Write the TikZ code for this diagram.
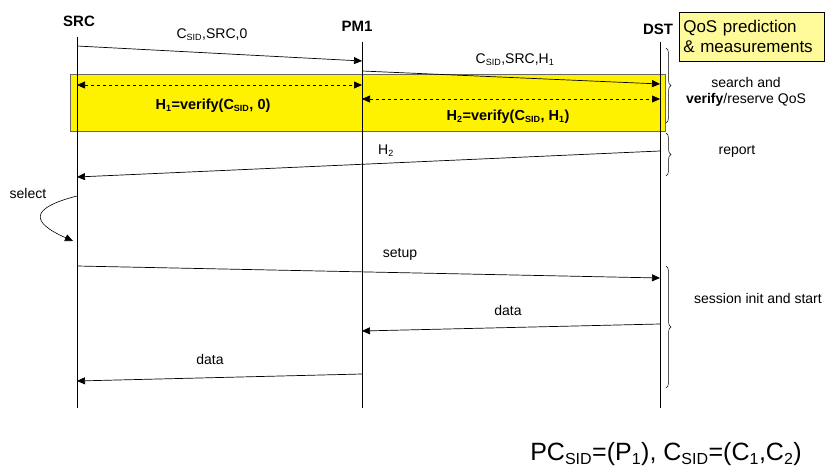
\documentclass[tikz,border=0pt]{standalone}
\usepackage{fontspec}
\setmainfont{Liberation Sans}
\usetikzlibrary{arrows.meta,decorations.pathreplacing}
\newcommand{\sbs}[1]{\textsubscript{\fontsize{9}{10}\selectfont #1}}
\newcommand{\bsbs}[1]{\textsubscript{\fontsize{16}{17}\selectfont #1}}
\begin{document}
\begin{tikzpicture}[x=1pt,y=-1pt,
  msg/.style={-{Triangle[length=8pt,width=7pt]},line width=0.7pt},
  dmsg/.style={{Triangle[length=8pt,width=7pt]}-{Triangle[length=8pt,width=7pt]},dashed,line width=0.6pt},
  life/.style={line width=0.6pt},
  lbl/.style={font=\fontsize{14}{16}\selectfont,inner sep=1pt},
  blbl/.style={font=\bfseries\fontsize{14.5}{16}\selectfont,inner sep=1pt},
  head/.style={font=\bfseries\fontsize{15}{17}\selectfont,inner sep=1pt},
  brc/.style={decorate,decoration={brace,amplitude=5pt},line width=0.5pt}]
\useasboundingbox (0,0) rectangle (827,470);
% yellow band
\node[draw=gray!80!black,fill=yellow,line width=0.7pt,minimum width=595pt,minimum height=57pt,inner sep=0pt,anchor=north west] (band) at (70,74) {};
% lifelines
\coordinate (srcT) at (77,37); \coordinate (srcB) at (77,408);
\coordinate (pmT) at (362,42); \coordinate (pmB) at (362,408);
\coordinate (dstT) at (660,42); \coordinate (dstB) at (660,408);
\draw[life] (srcT) -- (srcB);
\draw[life] (pmT) -- (pmB);
\draw[life] (dstT) -- (dstB);
\node[head] (src) at (79,21) {SRC};
\node[head] (pm) at (357,26) {PM1};
\node[head] (dst) at (658,29) {DST};
% QoS box
\node[draw=black,fill=yellow!40,line width=0.6pt,minimum width=145pt,minimum height=49pt,anchor=north west,align=left,font=\fontsize{17}{20}\selectfont,inner xsep=4pt,inner ysep=2pt,text width=137pt] (qos) at (679,12) {QoS prediction\\\& measurements};
% messages
\coordinate (m1a) at (77,46); \coordinate (m1b) at (362,61);
\draw[msg] (m1a) -- (m1b);
\node[lbl] (l1) at (212,35) {C\sbs{SID},SRC,0};
\coordinate (m2a) at (362,71); \coordinate (m2b) at (660,84);
\draw[msg] (m2a) -- (m2b);
\node[lbl] (l2) at (515,60) {C\sbs{SID},SRC,H\sbs{1}};
\coordinate (d1a) at (77,85); \coordinate (d1b) at (362,85);
\draw[dmsg] (d1a) -- (d1b);
\node[blbl] (h1) at (213,106) {H\sbs{1}=verify(C\sbs{SID}, 0)};
\coordinate (d2a) at (362,99); \coordinate (d2b) at (660,99);
\draw[dmsg] (d2a) -- (d2b);
\node[blbl] (h2) at (508,117) {H\sbs{2}=verify(C\sbs{SID}, H\sbs{1})};
% report
\coordinate (m3a) at (660,151); \coordinate (m3b) at (77,177);
\draw[msg] (m3a) -- (m3b);
\node[lbl] (l3) at (386,151) {H\sbs{2}};
% select
\coordinate (s1) at (77,196); \coordinate (s2) at (73,241);
\draw[msg,line width=0.6pt] (s1) .. controls (30,208) and (30,222) .. (s2);
\node[lbl] (sel) at (28,193) {select};
% setup
\coordinate (m4a) at (77,266); \coordinate (m4b) at (660,278);
\draw[msg] (m4a) -- (m4b);
\node[lbl] (l4) at (400,254) {setup};
% data
\coordinate (m5a) at (660,324); \coordinate (m5b) at (362,331);
\draw[msg] (m5a) -- (m5b);
\node[lbl] (l5) at (508,310) {data};
\coordinate (m6a) at (362,374); \coordinate (m6b) at (77,381);
\draw[msg] (m6a) -- (m6b);
\node[lbl] (l6) at (210,359) {data};
% braces
\coordinate (b1a) at (666,48); \coordinate (b1b) at (666,123);
\draw[brc] (b1a) -- (b1b);
\node[lbl,align=center] (t1) at (746,92) {search and\\\textbf{verify}/reserve QoS};
\coordinate (b2a) at (666,133); \coordinate (b2b) at (666,176);
\draw[brc] (b2a) -- (b2b);
\node[lbl] (t2) at (737,151) {report};
\coordinate (b3a) at (666,266); \coordinate (b3b) at (666,388);
\draw[brc] (b3a) -- (b3b);
\node[lbl] (t3) at (758,298) {session init and start};
% formula
\node[font=\fontsize{25}{28}\selectfont,inner sep=1pt] (f) at (666,454) {PC\bsbs{SID}=(P\bsbs{1}), C\bsbs{SID}=(C\bsbs{1},C\bsbs{2})};
\end{tikzpicture}
\end{document}
